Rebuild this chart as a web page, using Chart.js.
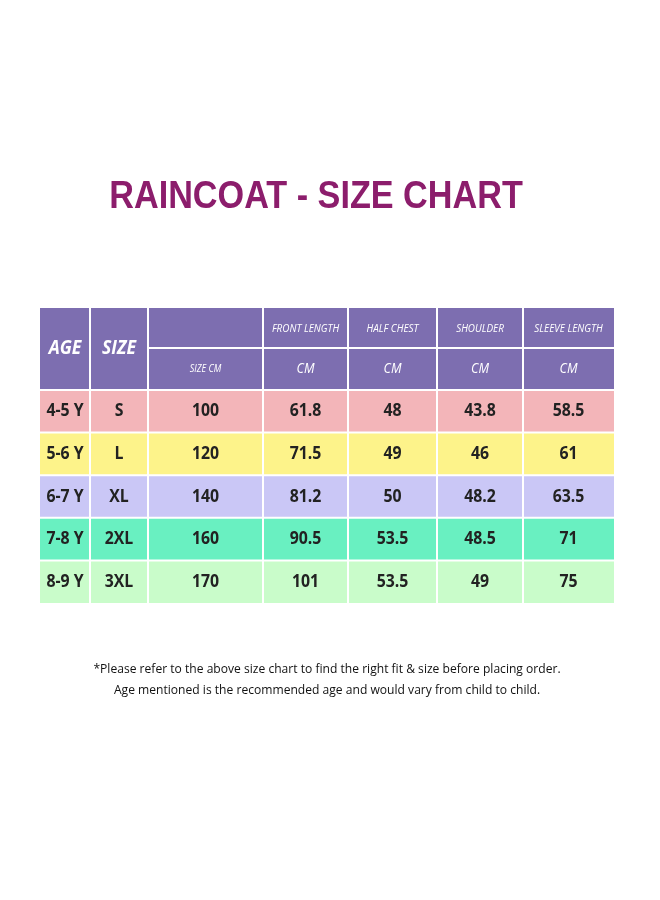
<!DOCTYPE html>
<html><head><meta charset="utf-8">
<script src="https://cdn.jsdelivr.net/npm/chart.js@4"></script>
<style>html,body{margin:0;background:#fff}#c{display:block}</style>
</head><body>
<div style="width:660px;height:900px"><canvas id="c"></canvas></div>
<script>
const title = "RAINCOAT - SIZE CHART";
const ages = ["4-5 Y", "5-6 Y", "6-7 Y", "7-8 Y", "8-9 Y"];
const sizes = ["S", "L", "XL", "2XL", "3XL"];
const sizeCm = [100, 120, 140, 160, 170];
const frontLength = ["61.8", "71.5", "81.2", "90.5", "101"];
const halfChest = ["48", "49", "50", "53.5", "53.5"];
const shoulder = ["43.8", "46", "48.2", "48.5", "49"];
const sleeveLength = ["58.5", "61", "63.5", "71", "75"];
const headTop = ["AGE", "SIZE", "", "FRONT LENGTH", "HALF CHEST", "SHOULDER", "SLEEVE LENGTH"];
const headBottom = ["", "", "SIZE CM", "CM", "CM", "CM", "CM"];
const notes = [
  "*Please refer to the above size chart to find the right fit & size before placing order.",
  "Age mentioned is the recommended age and would vary from child to child."
];

// layout (page pixels)
const colEdges = [40, 90, 148, 263, 348, 437, 523, 614];
const headEdges = [308, 348, 390];
const rowH = 42.6;
const rowColors = ["#f3b5b9", "#fdf38a", "#cac7f6", "#69f0c1", "#c9fcca"];
const headColor = "#7d6eb0";

// draw text squeezed horizontally (no condensed font installed)
function narrowText(ctx, t, x, y, sx) {
  ctx.save();
  ctx.translate(x, y);
  ctx.scale(sx, 1);
  ctx.fillText(t, 0, 0);
  ctx.restore();
}

const tablePlugin = {
  id: "table",
  afterDraw(chart) {
    const { ctx } = chart;
    const X = v => chart.scales.x.getPixelForValue(v);
    const Y = v => chart.scales.y.getPixelForValue(v);
    const font = "'Open Sans', sans-serif";
    ctx.save();
    ctx.textAlign = "center";
    ctx.textBaseline = "middle";
    // title
    ctx.fillStyle = "#8c1d6c";
    ctx.font = "bold 38px 'Liberation Sans', sans-serif";
    narrowText(ctx, title, X(316), Y(198), 0.9);

    // header
    ctx.fillStyle = headColor;
    ctx.fillRect(X(colEdges[0]), Y(headEdges[0]), X(colEdges[7]) - X(colEdges[0]), Y(headEdges[2]) - Y(headEdges[0]));
    const rows = ages.map((a, i) => [a, sizes[i], String(sizeCm[i]), frontLength[i], halfChest[i], shoulder[i], sleeveLength[i]]);
    rows.forEach((r, i) => {
      const y0 = headEdges[2] + i * rowH;
      ctx.fillStyle = rowColors[i];
      ctx.fillRect(X(colEdges[0]), Y(y0), X(colEdges[7]) - X(colEdges[0]), Y(y0 + rowH) - Y(y0));
    });
    // grid
    ctx.strokeStyle = "#ffffff";
    ctx.lineWidth = 2;
    const bottom = headEdges[2] + 5 * rowH;
    colEdges.slice(1, 7).forEach(c => {
      ctx.beginPath(); ctx.moveTo(X(c), Y(headEdges[0])); ctx.lineTo(X(c), Y(bottom)); ctx.stroke();
    });
    for (let i = 0; i < 5; i++) {
      const y = headEdges[2] + i * rowH;
      ctx.beginPath(); ctx.moveTo(X(colEdges[0]), Y(y)); ctx.lineTo(X(colEdges[7]), Y(y)); ctx.stroke();
    }
    ctx.beginPath(); ctx.moveTo(X(colEdges[2]), Y(headEdges[1])); ctx.lineTo(X(colEdges[7]), Y(headEdges[1])); ctx.stroke();

    // header text
    ctx.fillStyle = "#ffffff";
    headTop.forEach((t, j) => {
      const cx = X((colEdges[j] + colEdges[j + 1]) / 2);
      if (j < 2) {
        ctx.font = "italic bold 20px " + font;
        narrowText(ctx, t, cx, Y(348), 0.88);
      } else if (t) {
        ctx.font = "italic 11px " + font;
        narrowText(ctx, t, cx, Y(329), 0.9);
      }
    });
    headBottom.forEach((t, j) => {
      if (!t) return;
      const cx = X((colEdges[j] + colEdges[j + 1]) / 2);
      ctx.font = (j === 2 ? "italic 10px " : "italic 14px ") + font;
      narrowText(ctx, t, cx, Y(369), 0.9);
    });
    // body text
    ctx.fillStyle = "#222222";
    ctx.font = "bold 18px " + font;
    rows.forEach((r, i) => {
      const cy = Y(headEdges[2] + (i + 0.5) * rowH);
      r.forEach((t, j) => narrowText(ctx, t, X((colEdges[j] + colEdges[j + 1]) / 2), cy, 0.88));
    });
    // notes
    ctx.fillStyle = "#111111";
    ctx.font = "13px 'Open Sans', sans-serif";
    narrowText(ctx, notes[0], X(327), Y(669), 0.93);
    narrowText(ctx, notes[1], X(327), Y(690), 0.93);
    ctx.restore();
  }
};

new Chart(document.getElementById("c"), {
  type: "scatter",
  data: { datasets: [{ data: [] }] },
  options: {
    responsive: true,
    maintainAspectRatio: false,
    animation: false,
    layout: { padding: 0 },
    plugins: { legend: { display: false }, tooltip: { enabled: false } },
    scales: {
      x: { type: "linear", min: 0, max: 660, display: false },
      y: { type: "linear", min: 0, max: 900, reverse: true, display: false }
    }
  },
  plugins: [tablePlugin]
});
</script>
</body></html>
